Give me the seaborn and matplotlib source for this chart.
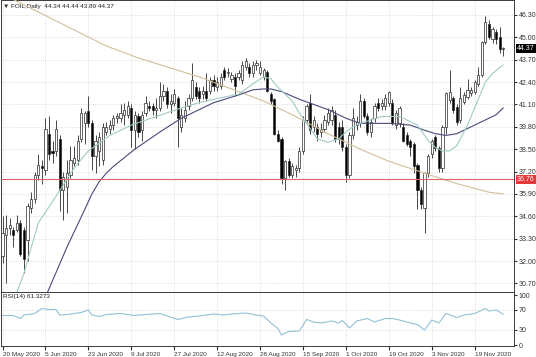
import matplotlib
matplotlib.use("Agg")
import matplotlib.pyplot as plt
import matplotlib.transforms as mtransforms
import seaborn as sns
import numpy as np
import pandas as pd

# daily candles (bar 0 = 20 May 2020)
opens = [32.3, 33.5, 33.9, 33.8, 33.8, 34.2, 33.8, 33.2, 35.1, 35.6,
         37.0, 37.5, 37.3, 39.4, 38.4, 38.4, 39.1, 36.1, 36.3, 37.0,
         37.7, 37.9, 39.1, 40.0, 40.7, 40.0, 38.1, 38.4, 37.9, 39.5,
         39.7, 39.9, 40.3, 40.3, 40.5, 40.5, 40.9, 39.6, 40.4, 39.6,
         40.6, 41.0, 41.0, 40.8, 40.9, 41.6, 41.9, 41.1, 41.2, 41.5,
         39.8, 40.3, 41.0, 41.5, 42.1, 41.9, 41.7, 41.9, 41.9, 42.5,
         42.1, 42.2, 43.1, 42.9, 42.6, 42.7, 42.7, 42.5, 43.3, 43.3,
         42.9, 43.4, 42.9, 42.7, 43.0, 41.7, 41.4, 39.4, 39.1, 36.8,
         37.8, 37.0, 37.3, 37.4, 38.4, 40.2, 41.2, 39.8, 39.8, 39.5,
         39.7, 40.1, 40.2, 40.5, 39.8, 39.8, 38.6, 37.0, 39.3, 39.9,
         40.0, 41.3, 40.4, 39.5, 40.3, 41.2, 41.0, 41.0, 41.2, 41.2,
         39.9, 40.0, 39.8, 39.3, 39.0, 38.8, 37.6, 36.1, 35.1, 37.1,
         38.2, 39.2, 38.55, 37.4, 39.8, 41.36, 41.45, 40.97, 40.2, 41.26,
         41.55, 41.75, 41.84, 42.3, 42.8, 44.75, 45.8, 44.9, 45.3, 45.0,
         44.34]
highs = [34.6, 34.7, 34.5, 34.0, 34.7, 34.4, 34.0, 35.4, 36.0, 37.2,
         38.2, 37.9, 40.3, 40.4, 39.0, 40.2, 39.3, 37.2, 37.9, 38.7,
         38.7, 39.3, 40.9, 40.7, 41.6, 40.2, 39.3, 39.5, 40.0, 40.1,
         40.2, 40.5, 40.6, 41.1, 41.2, 41.3, 41.1, 40.7, 40.6, 40.7,
         41.6, 41.3, 41.2, 41.5, 42.4, 42.3, 42.1, 41.7, 42.0, 41.6,
         40.9, 41.3, 41.7, 43.5, 42.4, 42.1, 42.2, 42.9, 42.7, 42.8,
         42.7, 42.9, 43.3, 43.2, 43.0, 42.9, 43.1, 43.6, 43.8, 43.5,
         43.6, 43.7, 43.6, 43.2, 43.1, 41.8, 41.5, 39.6, 39.2, 37.9,
         38.0, 37.7, 37.6, 38.6, 40.4, 41.1, 41.7, 40.4, 40.0, 40.0,
         40.5, 40.9, 41.0, 40.8, 40.1, 40.2, 38.8, 39.5, 40.9, 40.4,
         41.7, 41.5, 40.6, 40.3, 41.2, 41.5, 41.4, 41.7, 41.9, 41.4,
         40.8, 41.0, 40.0, 39.5, 39.1, 38.9, 37.7, 36.3, 37.2, 38.2,
         39.1, 39.3, 38.7, 39.9, 41.8, 43.1, 41.6, 41.1, 42.1, 41.8,
         42.6, 42.1, 42.5, 43.3, 44.8, 46.25, 46.0, 45.6, 45.5, 45.6,
         44.44]
lows = [31.9, 30.7, 33.5, 32.8, 33.7, 32.3, 31.3, 32.0, 34.8, 35.4,
        36.7, 36.5, 37.0, 37.9, 37.7, 38.1, 34.9, 34.4, 34.8, 36.8,
        37.5, 37.6, 38.9, 38.8, 39.8, 37.3, 37.1, 37.5, 37.6, 39.3,
        39.4, 39.6, 40.0, 40.1, 39.9, 40.3, 38.6, 38.5, 39.2, 39.0,
        40.4, 40.7, 40.5, 40.3, 40.7, 41.3, 40.9, 40.6, 41.0, 38.6,
        39.5, 40.1, 40.8, 41.3, 41.4, 41.2, 41.4, 41.3, 41.7, 41.9,
        41.9, 42.0, 42.5, 42.7, 42.4, 41.6, 42.5, 42.3, 43.1, 42.7,
        42.7, 43.1, 42.8, 42.5, 41.8, 41.1, 39.3, 38.9, 36.5, 36.1,
        36.9, 36.8, 36.9, 37.2, 38.2, 40.0, 39.4, 39.5, 39.0, 39.2,
        39.5, 39.9, 39.9, 38.9, 38.8, 38.4, 36.6, 36.8, 39.1, 39.6,
        39.8, 40.3, 39.3, 39.2, 40.1, 40.7, 40.8, 40.8, 41.0, 39.9,
        39.7, 39.8, 38.9, 38.7, 38.1, 37.1, 35.0, 35.0, 33.6, 36.9,
        38.0, 38.4, 37.2, 37.2, 39.4, 41.2, 40.6, 39.9, 40.0, 41.1,
        41.4, 41.6, 41.7, 42.2, 42.7, 44.6, 44.9, 44.7, 44.6, 44.1,
        43.89]
closes = [33.6, 33.9, 34.1, 33.5, 34.2, 32.4, 32.1, 35.2, 35.6, 37.0,
          37.6, 37.4, 39.7, 38.2, 38.3, 39.7, 36.1, 36.9, 37.1, 37.9,
          38.0, 39.0, 40.6, 40.6, 40.0, 38.1, 39.0, 39.2, 39.8, 39.8,
          39.9, 40.3, 40.4, 40.6, 40.8, 41.0, 39.6, 40.5, 39.5, 40.5,
          41.2, 40.9, 40.8, 40.9, 41.6, 41.9, 41.1, 41.3, 41.7, 40.3,
          40.5, 40.8, 41.5, 42.5, 41.6, 41.5, 41.9, 41.5, 42.5, 42.2,
          42.4, 42.7, 42.7, 43.0, 42.8, 42.2, 42.9, 43.4, 43.6, 42.9,
          43.4, 43.5, 43.3, 43.1, 41.9, 41.3, 39.4, 39.0, 36.8, 37.8,
          37.0, 37.5, 37.4, 38.4, 40.2, 41.0, 39.6, 40.2, 39.4, 39.7,
          40.2, 40.6, 40.8, 39.1, 39.1, 38.6, 37.0, 39.3, 40.3, 40.1,
          41.3, 40.4, 39.5, 40.1, 41.0, 40.9, 41.2, 41.5, 41.8, 40.0,
          40.6, 40.9, 39.0, 38.8, 38.6, 37.5, 36.1, 35.3, 37.1, 38.1,
          39.0, 38.55, 37.4, 39.8, 41.75, 41.84, 40.78, 40.1, 41.45, 41.65,
          41.94, 41.94, 42.4, 42.8, 44.75, 45.9, 45.0, 45.5, 44.9, 44.3,
          44.37]

# moving averages (bar, value) as drawn on the chart
fast_ma_bar = [3, 6, 10, 16, 20, 24, 30, 36, 43, 50, 55, 59, 66, 70, 73, 75,
               77, 81, 83, 85, 88, 91, 94, 96, 98, 100, 103, 106, 111, 113,
               116, 119, 121, 123, 125, 127, 130, 133, 135, 137, 140]
fast_ma_val = [29.6, 31.3, 34.2, 36.1, 37.4, 38.4, 39.3, 39.9, 40.4, 40.9, 41.2,
               41.4, 41.7, 42.3, 42.7, 42.6, 42.1, 41.3, 40.6, 40.0, 39.1, 38.9,
               39.1, 39.5, 39.8, 40.0, 40.2, 40.4, 40.4, 40.2, 39.9, 39.0, 38.6,
               38.4, 38.4, 38.7, 39.9, 41.4, 42.4, 42.9, 43.4]
slow_ma_bar = [12, 18, 23, 25, 27, 29, 31, 34, 37, 44, 50, 55, 59, 66, 70, 73,
               75, 78, 83, 87, 91, 96, 100, 104, 108, 114, 118, 121, 124, 127,
               130, 133, 135, 138, 140]
slow_ma_val = [29.9, 32.8, 35.0, 35.9, 36.6, 37.1, 37.5, 38.0, 38.5, 39.5,
               40.3, 40.8, 41.2, 41.65, 41.95, 42.0, 42.0, 41.85, 41.4, 41.1,
               40.8, 40.3, 40.0, 40.0, 40.0, 39.9, 39.6, 39.4, 39.3, 39.4,
               39.7, 40.0, 40.2, 40.5, 40.9]
long_ma_bar = [0, 3, 29, 38, 55, 73, 81, 91, 100, 108, 118, 127, 136, 140]
long_ma_val = [47.5, 47.2, 44.5, 43.8, 42.7, 41.3, 40.5, 39.4, 38.5, 37.8,
               37.1, 36.5, 36.0, 35.9]

rsi_bar = [0, 3, 5, 6, 9, 11, 13, 15, 16, 18, 22, 24, 25, 27, 29, 33, 37, 40,
           44, 49, 52, 55, 59, 62, 64, 68, 71, 73, 75, 77, 78, 80, 83, 85, 87,
           89, 92, 94, 95, 97, 99, 102, 104, 107, 109, 111, 114, 116, 118, 120,
           122, 124, 127, 129, 132, 135, 136, 138, 140]
rsi_val = [59, 59, 53, 60, 63, 73, 71, 71, 60, 61, 65, 70, 60, 57, 61, 63, 59,
           61, 63, 51, 56, 58, 62, 60, 62, 64, 60, 58, 44, 33, 20, 27, 28, 51,
           46, 44, 48, 44, 49, 34, 48, 53, 46, 53, 53, 50, 44, 41, 30, 50, 44,
           63, 55, 60, 63, 73, 68, 70, 61.33]

date_ticks = [0, 12, 24, 36, 48, 60, 72, 84, 96, 108, 120, 132]
date_labels = ["20 May 2020", "5 Jun 2020", "23 Jun 2020", "9 Jul 2020",
               "27 Jul 2020", "12 Aug 2020", "28 Aug 2020", "15 Sep 2020",
               "1 Oct 2020", "19 Oct 2020", "3 Nov 2020", "19 Nov 2020"]
price_ticks = [30.70, 32.00, 33.30, 34.60, 35.90, 37.20, 38.50, 39.80,
               41.10, 42.40, 43.70, 45.00, 46.30]
rsi_ticks = [100, 70, 30, 0]
rsi_levels = [70, 30]

level_line = 36.76
last_price = 44.37
header = "\u25bc FOIL,Daily  44.34 44.44 43.89 44.37"
rsi_title = "RSI(14) 61.3273"

sns.set_style("white")
plt.rcParams["font.family"] = ["Liberation Sans", "DejaVu Sans"]

df = pd.DataFrame({"open": opens, "high": highs, "low": lows, "close": closes})
df["bar"] = np.arange(len(df))
up = df["close"] >= df["open"]

fig = plt.figure(figsize=(5.36, 3.57), dpi=100)
W, H = 536, 357
ax = fig.add_axes([0.5 / W, 1 - 292 / H, 513.5 / W, 292 / H])
ax_rsi = fig.add_axes([0.5 / W, 1 - 346 / H, 513.5 / W, 54 / H])

grid_kw = dict(color="#c4c4c4", lw=0.5, ls=(0, (1, 2)))

# candles
ax.vlines(df["bar"], df["low"], df["high"], color="#2a2a2a", lw=0.6, zorder=2)
body = (df["close"] - df["open"]).abs().clip(lower=0.04)
ax.bar(df["bar"], body, bottom=df[["open", "close"]].min(axis=1), width=0.62,
       color=np.where(up, "white", "black"), edgecolor="#2a2a2a",
       linewidth=0.5, zorder=3)

sns.lineplot(x=long_ma_bar, y=long_ma_val, ax=ax, color="#d2bf9a", lw=0.8, zorder=4)
sns.lineplot(x=slow_ma_bar, y=slow_ma_val, ax=ax, color="#4a4a78", lw=0.8, zorder=4)
sns.lineplot(x=fast_ma_bar, y=fast_ma_val, ax=ax, color="#a2cbc6", lw=0.8, zorder=4)
ax.axhline(level_line, color="#e06262", lw=0.8, zorder=4)

ax.set_xlim(-0.56, 143.0)
ax.set_ylim(30.20, 47.17)
ax.set_xticks(date_ticks)
ax.set_yticks(price_ticks)
ax.set_yticklabels([f"{p:.2f}" for p in price_ticks])
ax.yaxis.tick_right()
ax.tick_params(axis="y", length=2, pad=1.5, labelsize=5, colors="#333333")
ax.tick_params(axis="x", length=0, labelbottom=False)
ax.grid(True, **grid_kw)
ax.set_xlabel("")
ax.set_ylabel("")

tr = mtransforms.blended_transform_factory(ax.transAxes, ax.transData)
ax.text(1.006, last_price, f"{last_price:.2f}", transform=tr, ha="left",
        va="center", color="white", fontsize=5,
        bbox=dict(boxstyle="square,pad=0.15", fc="black", ec="none"))
ax.text(1.006, level_line, f"{level_line:.2f}", transform=tr, ha="left",
        va="center", color="white", fontsize=5,
        bbox=dict(boxstyle="square,pad=0.15", fc="#e03a3a", ec="none"))
ax.text(0.005, 0.985, header, transform=ax.transAxes, ha="left", va="top",
        fontsize=4.6, color="#222222")

# RSI panel
sns.lineplot(x=rsi_bar, y=rsi_val, ax=ax_rsi, color="#93c1d6", lw=0.8)
for lv in rsi_levels:
    ax_rsi.axhline(lv, **grid_kw)
ax_rsi.set_xlim(-0.56, 143.0)
ax_rsi.set_ylim(-2, 106)
ax_rsi.set_yticks(rsi_ticks)
ax_rsi.set_yticklabels([str(t) for t in rsi_ticks])
ax_rsi.yaxis.tick_right()
ax_rsi.tick_params(axis="y", length=2, pad=1.5, labelsize=5, colors="#333333")
ax_rsi.set_xticks(date_ticks)
ax_rsi.set_xticklabels(date_labels, ha="left")
ax_rsi.tick_params(axis="x", length=3, pad=1.5, labelsize=4.6, colors="#333333",
                   bottom=True)
ax_rsi.grid(True, axis="x", **grid_kw)
ax_rsi.set_xlabel("")
ax_rsi.set_ylabel("")
ax_rsi.text(0.005, 0.96, rsi_title, transform=ax_rsi.transAxes, ha="left",
            va="top", fontsize=4.6, color="#222222")

for a in (ax, ax_rsi):
    for s in a.spines.values():
        s.set_color("#3a3a3a")
        s.set_linewidth(0.7)

fig.savefig("out.png", dpi=100)
